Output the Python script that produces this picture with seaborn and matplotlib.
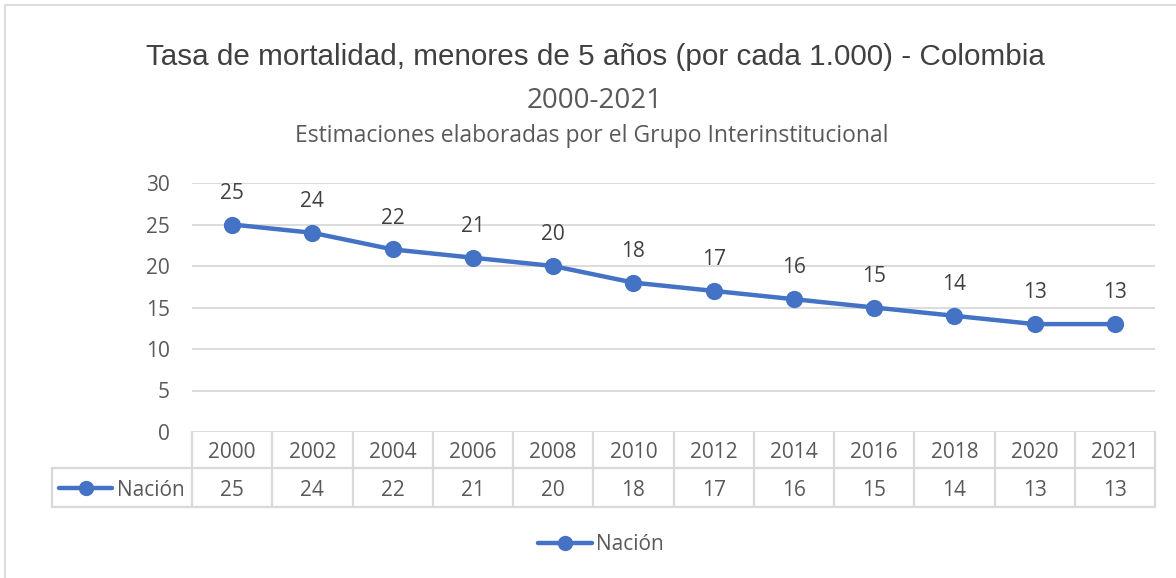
import matplotlib
matplotlib.use("Agg")
import matplotlib.pyplot as plt
import seaborn as sns
import pandas as pd
from matplotlib.lines import Line2D
from matplotlib.transforms import blended_transform_factory

# Under-5 mortality rate (per 1,000 live births), Colombia
years = ["2000", "2002", "2004", "2006", "2008", "2010",
         "2012", "2014", "2016", "2018", "2020", "2021"]
rates = [25, 24, 22, 21, 20, 18, 17, 16, 15, 14, 13, 13]
series_name = "Nación"
y_ticks = [0, 5, 10, 15, 20, 25, 30]

title = "Tasa de mortalidad, menores de 5 años (por cada 1.000) - Colombia"
subtitle = "2000-2021"
note = "Estimaciones elaboradas por el Grupo Interinstitucional"

BLUE = "#4472C4"
GRID = "#D9D9D9"
TEXT = "#595959"
LABEL = "#404040"
FONT = "Open Sans"
FS = 15

sns.set_theme(style="white")
plt.rcParams["font.family"] = [FONT, "DejaVu Sans"]

df = pd.DataFrame({"Año": years, "Tasa": rates})

W, H = 1176, 578
fig = plt.figure(figsize=(W / 100, H / 100), dpi=100)
fig.patch.set_facecolor("white")

# plot area in pixels: x 192..1155, y 183..432
px_l, px_r, px_t, px_b = 192, 1155, 183, 432
ax = fig.add_axes([px_l / W, 1 - px_b / H, (px_r - px_l) / W, (px_b - px_t) / H])

sns.pointplot(data=df, x="Año", y="Tasa", ax=ax, color=BLUE,
              markers="o", linestyles="-", errorbar=None,
              markersize=10, linewidth=3.2)

ax.set_xlim(-0.5, len(years) - 0.5)
ax.set_ylim(0, 30)
ax.set_yticks(y_ticks)
ax.set_yticklabels([str(v) for v in y_ticks])
ax.set_xticks([])
ax.set_xlabel("")
ax.set_ylabel("")
ax.tick_params(axis="y", length=0, pad=16, labelsize=FS, labelcolor=TEXT)
for s in ax.spines.values():
    s.set_visible(False)
for v in y_ticks:
    ax.axhline(v, color=GRID, lw=1.3, zorder=0)

# value labels above each point
for i, v in enumerate(rates):
    ax.annotate(str(v), (i, v), xytext=(0, 22.5), textcoords="offset points",
                ha="center", va="center", fontsize=FS, color=LABEL)

# data table below the axis
tr = blended_transform_factory(ax.transData, ax.transAxes)
ph = px_b - px_t
y_mid = -(468 - px_b) / ph
y_bot = -(507 - px_b) / ph
y_hdr = -(452 - px_b) / ph
y_val = -(490 - px_b) / ph
y_glyph = -(488 - px_b) / ph
n = len(years)
cell_w = (px_r - px_l) / n
x_leg = -0.5 - (px_l - 52) / cell_w

def tline(xs, ys):
    ax.add_line(Line2D(xs, ys, transform=tr, color=GRID, lw=1.6, clip_on=False))

for k in range(n + 1):
    tline([k - 0.5, k - 0.5], [0, y_bot])
tline([x_leg, n - 0.5], [y_mid, y_mid])
tline([x_leg, n - 0.5], [y_bot, y_bot])
tline([x_leg, x_leg], [y_mid, y_bot])

for i, (yr, v) in enumerate(zip(years, rates)):
    ax.text(i, y_hdr, yr, transform=tr, ha="center", va="center",
            fontsize=FS, color=TEXT, clip_on=False)
    ax.text(i, y_val, str(v), transform=tr, ha="center", va="center",
            fontsize=FS, color=TEXT, clip_on=False)

def px2x(p):
    return -0.5 + (p - px_l) / cell_w

ax.add_line(Line2D([px2x(59), px2x(112)], [y_glyph, y_glyph], transform=tr,
                   color=BLUE, lw=3.2, solid_capstyle="round", clip_on=False))
ax.add_line(Line2D([px2x(86)], [y_glyph], transform=tr, color=BLUE,
                   marker="o", markersize=10, clip_on=False))
ax.text(px2x(185), y_val, series_name, transform=tr, ha="right", va="center",
        fontsize=FS, color=TEXT, clip_on=False)

# legend below the table
handle = Line2D([], [], color=BLUE, lw=3.2, marker="o", markersize=10,
                solid_capstyle="round")
fig.legend([handle], [series_name], loc="center",
           bbox_to_anchor=(0.511, 1 - 545 / H), frameon=False,
           fontsize=FS, handlelength=2.6, handletextpad=0.2,
           labelcolor=TEXT)

# titles
fig.text(0.506, 1 - 57 / H, title, ha="center", va="center",
         fontsize=21.3, color=LABEL, family="Liberation Sans")
fig.text(0.506, 1 - 101 / H, subtitle, ha="center", va="center",
         fontsize=20, color=TEXT)
fig.text(0.503, 1 - 136 / H, note, ha="center", va="center",
         fontsize=16.5, color=TEXT)

# chart-area border (top and left edges)
fig.add_artist(Line2D([5 / W, 1], [1 - 5 / H, 1 - 5 / H],
                      transform=fig.transFigure, color=GRID, lw=1.3))
fig.add_artist(Line2D([5 / W, 5 / W], [0, 1 - 5 / H],
                      transform=fig.transFigure, color=GRID, lw=1.3))

fig.savefig("out.png", dpi=100, facecolor="white")
